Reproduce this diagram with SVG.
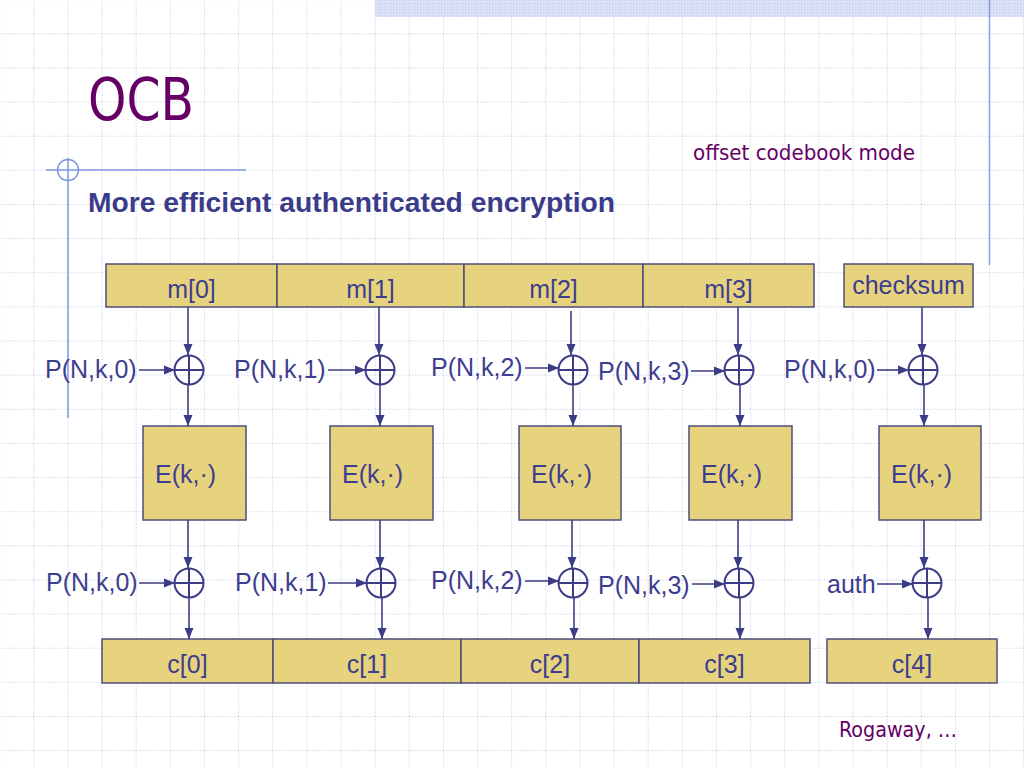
<svg xmlns="http://www.w3.org/2000/svg" width="1024" height="768" viewBox="0 0 1024 768">
<defs>
<pattern id="grid" patternUnits="userSpaceOnUse" x="-0.8" y="-0.8" width="34.1333" height="34.1333">
<path d="M0.5 0V34.1333M0 0.5H34.1333" fill="none" stroke="#D3D8EE" stroke-width="1" stroke-dasharray="1.5 1.5"/>
</pattern>
<pattern id="dots" patternUnits="userSpaceOnUse" width="3" height="3">
<rect width="3" height="3" fill="#DCE3F8"/>
<rect width="1.5" height="1.5" fill="#C8D3F2"/>
</pattern>
<marker id="ah" markerUnits="userSpaceOnUse" markerWidth="12" markerHeight="10" refX="11" refY="5" orient="auto">
<path d="M0 0.5L11 5L0 9.5Z" fill="#3C3C86"/>
</marker>
</defs>
<style>
.box{fill:#E7D37D;stroke:#4E4E7C;stroke-width:1.5}
.t{font-family:"Liberation Sans",Arial,sans-serif;font-size:25px;fill:#3D3D8F}
.c{text-anchor:middle}
.x{fill:none;stroke:#3C3C86;stroke-width:2}
.ln{fill:none;stroke:#3C3C86;stroke-width:1.6;marker-end:url(#ah)}
.ttl{font-family:"DejaVu Sans Condensed","DejaVu Sans",sans-serif;font-stretch:condensed;fill:#660066}
</style>
<rect width="1024" height="768" fill="#FFFFFF"/>
<rect width="1024" height="768" fill="url(#grid)"/>
<rect x="375" y="0" width="649" height="17" fill="url(#dots)"/>
<line x1="989.5" y1="0" x2="989.5" y2="265" stroke="#8C9CE2" stroke-width="1.5"/>
<g id="deco">
<line x1="68" y1="158" x2="68" y2="418" stroke="#7F98E0" stroke-width="1.5"/>
<line x1="46" y1="170" x2="246" y2="170" stroke="#7F98E0" stroke-width="1.5"/>
<circle cx="68" cy="170" r="10.5" fill="none" stroke="#7F98E0" stroke-width="1.5"/>
</g>
<text x="88" y="120" class="ttl" font-size="58" textLength="106" lengthAdjust="spacingAndGlyphs">OCB</text>
<text x="693" y="160" class="ttl" font-size="21" textLength="222" lengthAdjust="spacingAndGlyphs">offset codebook mode</text>
<text x="88" y="212" font-family="Liberation Sans,Arial,sans-serif" font-weight="bold" font-size="27" fill="#3B3B8A" textLength="527" lengthAdjust="spacingAndGlyphs">More efficient authenticated encryption</text>
<text x="839" y="737" class="ttl" font-size="21" textLength="118" lengthAdjust="spacingAndGlyphs">Rogaway, …</text>

<g id="m0"><rect class="box" x="106" y="264" width="171" height="43"/><text class="t c" x="191.5" y="298">m[0]</text></g>
<g id="m1"><rect class="box" x="277" y="264" width="187" height="43"/><text class="t c" x="370.5" y="298">m[1]</text></g>
<g id="m2"><rect class="box" x="464" y="264" width="179" height="43"/><text class="t c" x="553.5" y="298">m[2]</text></g>
<g id="m3"><rect class="box" x="643" y="264" width="171" height="43"/><text class="t c" x="728.5" y="298">m[3]</text></g>
<g id="checksum"><rect class="box" x="844" y="264" width="129" height="43"/><text class="t c" x="908.5" y="294">checksum</text></g>

<g id="xa0"><circle class="x" cx="189" cy="370" r="14.5"/><path class="x" d="M174.5 370H203.5M189 355.5V384.5"/></g>
<g id="xa1"><circle class="x" cx="380" cy="370" r="14.5"/><path class="x" d="M365.5 370H394.5M380 355.5V384.5"/></g>
<g id="xa2"><circle class="x" cx="573" cy="370" r="14.5"/><path class="x" d="M558.5 370H587.5M573 355.5V384.5"/></g>
<g id="xa3"><circle class="x" cx="739" cy="370" r="14.5"/><path class="x" d="M724.5 370H753.5M739 355.5V384.5"/></g>
<g id="xa4"><circle class="x" cx="923" cy="370" r="14.5"/><path class="x" d="M908.5 370H937.5M923 355.5V384.5"/></g>

<g id="pa0"><text class="t" x="45" y="378">P(N,k,0)</text></g>
<g id="pa1"><text class="t" x="234" y="378">P(N,k,1)</text></g>
<g id="pa2"><text class="t" x="431" y="376">P(N,k,2)</text></g>
<g id="pa3"><text class="t" x="598" y="380">P(N,k,3)</text></g>
<g id="pa4"><text class="t" x="784" y="378">P(N,k,0)</text></g>

<g id="e0"><rect class="box" x="143" y="426" width="103" height="94"/><text class="t" x="155" y="483">E(k,·)</text></g>
<g id="e1"><rect class="box" x="330" y="426" width="103" height="94"/><text class="t" x="342" y="483">E(k,·)</text></g>
<g id="e2"><rect class="box" x="519" y="426" width="102" height="94"/><text class="t" x="531" y="483">E(k,·)</text></g>
<g id="e3"><rect class="box" x="689" y="426" width="103" height="94"/><text class="t" x="701" y="483">E(k,·)</text></g>
<g id="e4"><rect class="box" x="879" y="426" width="102" height="94"/><text class="t" x="891" y="483">E(k,·)</text></g>

<g id="xb0"><circle class="x" cx="189" cy="583" r="14.5"/><path class="x" d="M174.5 583H203.5M189 568.5V597.5"/></g>
<g id="xb1"><circle class="x" cx="381" cy="583" r="14.5"/><path class="x" d="M366.5 583H395.5M381 568.5V597.5"/></g>
<g id="xb2"><circle class="x" cx="573" cy="583" r="14.5"/><path class="x" d="M558.5 583H587.5M573 568.5V597.5"/></g>
<g id="xb3"><circle class="x" cx="739" cy="583" r="14.5"/><path class="x" d="M724.5 583H753.5M739 568.5V597.5"/></g>
<g id="xb4"><circle class="x" cx="927" cy="583" r="14.5"/><path class="x" d="M912.5 583H941.5M927 568.5V597.5"/></g>

<g id="pb0"><text class="t" x="46" y="591">P(N,k,0)</text></g>
<g id="pb1"><text class="t" x="235" y="591">P(N,k,1)</text></g>
<g id="pb2"><text class="t" x="431" y="589">P(N,k,2)</text></g>
<g id="pb3"><text class="t" x="598" y="594">P(N,k,3)</text></g>
<g id="auth"><text class="t" x="827" y="593">auth</text></g>

<g id="c0"><rect class="box" x="102" y="639" width="171" height="44"/><text class="t c" x="187.5" y="673">c[0]</text></g>
<g id="c1"><rect class="box" x="273" y="639" width="188" height="44"/><text class="t c" x="367" y="673">c[1]</text></g>
<g id="c2"><rect class="box" x="461" y="639" width="178" height="44"/><text class="t c" x="550" y="673">c[2]</text></g>
<g id="c3"><rect class="box" x="639" y="639" width="171" height="44"/><text class="t c" x="724.5" y="673">c[3]</text></g>
<g id="c4"><rect class="box" x="827" y="639" width="170" height="44"/><text class="t c" x="912" y="673">c[4]</text></g>

<g id="connectors">
<line class="ln" x1="188" y1="307" x2="188" y2="355"/>
<line class="ln" x1="379" y1="307" x2="379" y2="355"/>
<line class="ln" x1="571" y1="311" x2="571" y2="355"/>
<line class="ln" x1="738" y1="307" x2="738" y2="355"/>
<line class="ln" x1="922" y1="307" x2="922" y2="355"/>

<line class="ln" x1="139" y1="370" x2="175" y2="370"/>
<line class="ln" x1="328" y1="370" x2="366" y2="370"/>
<line class="ln" x1="525" y1="368" x2="559" y2="368"/>
<line class="ln" x1="691" y1="371" x2="725" y2="371"/>
<line class="ln" x1="877" y1="370" x2="909" y2="370"/>

<line class="ln" x1="188" y1="385" x2="188" y2="426"/>
<line class="ln" x1="380" y1="385" x2="380" y2="426"/>
<line class="ln" x1="573" y1="385" x2="573" y2="426"/>
<line class="ln" x1="740" y1="385" x2="740" y2="426"/>
<line class="ln" x1="924" y1="385" x2="924" y2="426"/>

<line class="ln" x1="188" y1="520" x2="188" y2="568"/>
<line class="ln" x1="380" y1="520" x2="380" y2="568"/>
<line class="ln" x1="572" y1="520" x2="572" y2="568"/>
<line class="ln" x1="738" y1="520" x2="738" y2="568"/>
<line class="ln" x1="924" y1="520" x2="924" y2="568"/>

<line class="ln" x1="139" y1="583" x2="175" y2="583"/>
<line class="ln" x1="328" y1="583" x2="367" y2="583"/>
<line class="ln" x1="525" y1="581" x2="559" y2="581"/>
<line class="ln" x1="692" y1="584" x2="725" y2="584"/>
<line class="ln" x1="877" y1="584" x2="913" y2="584"/>

<line class="ln" x1="189" y1="598" x2="189" y2="639"/>
<line class="ln" x1="382" y1="598" x2="382" y2="639"/>
<line class="ln" x1="574" y1="598" x2="574" y2="639"/>
<line class="ln" x1="740" y1="598" x2="740" y2="639"/>
<line class="ln" x1="928" y1="598" x2="928" y2="639"/>
</g>
</svg>
